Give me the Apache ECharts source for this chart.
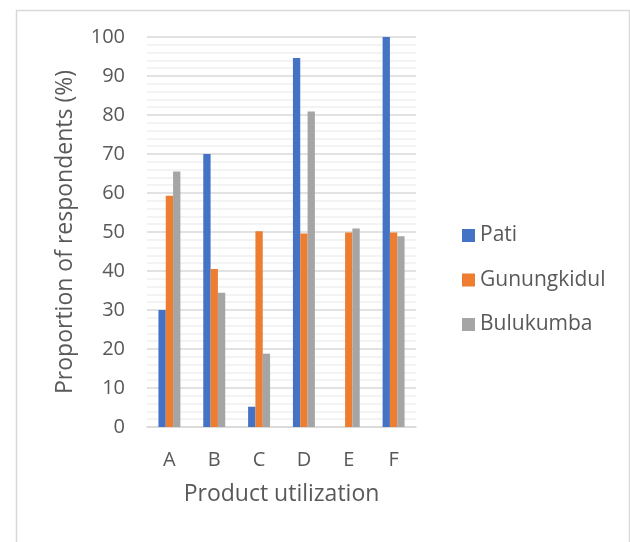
<!DOCTYPE html>
<html>
<head>
<meta charset="utf-8">
<script src="https://cdn.jsdelivr.net/npm/echarts@6/dist/echarts.min.js"></script>
<style>
  html, body { margin: 0; padding: 0; background: #fff; }
  #chart { width: 630px; height: 542px; }
</style>
</head>
<body>
<div id="chart"></div>
<script>
// Share of respondents per product-utilization category, by district
const categories = ['A', 'B', 'C', 'D', 'E', 'F'];
const pati        = [30, 70, 5.2, 94.6, 0, 100];
const gunungkidul = [59.3, 40.5, 50.2, 49.6, 49.9, 49.9];
const bulukumba   = [65.5, 34.4, 18.8, 80.9, 50.9, 48.9];
const yTicks = { min: 0, max: 100, interval: 10 };

const textColor = '#595959';
const fontFamily = '"Open Sans", "Liberation Sans", sans-serif';

const chart = echarts.init(document.getElementById('chart'), null, { renderer: 'canvas' });

const seriesDefs = [
  { name: 'Pati', data: pati, color: '#4472C4' },
  { name: 'Gunungkidul', data: gunungkidul, color: '#ED7D31' },
  { name: 'Bulukumba', data: bulukumba, color: '#A5A5A5' }
];

chart.setOption({
  animation: false,
  backgroundColor: '#fff',
  textStyle: { fontFamily: fontFamily, color: textColor },
  graphic: [{
    type: 'rect',
    left: 14, top: 8,
    shape: { width: 613, height: 560 },
    style: { fill: 'none', stroke: '#d9d9d9', lineWidth: 1.5 },
    silent: true
  }],
  grid: { left: 147, right: 214, top: 37, bottom: 115 },
  legend: {
    orient: 'vertical',
    left: 457,
    top: 220,
    itemWidth: 13,
    itemHeight: 13,
    itemGap: 23.5,
    icon: 'rect',
    textStyle: { fontSize: 21, color: textColor, fontFamily: fontFamily }
  },
  xAxis: {
    type: 'category',
    data: categories,
    name: 'Product utilization',
    nameLocation: 'middle',
    nameGap: 56,
    nameTextStyle: { fontSize: 23, color: textColor, fontFamily: fontFamily },
    axisLine: { lineStyle: { color: '#d9d9d9', width: 1.5 } },
    axisTick: { show: false },
    axisLabel: { fontSize: 20, color: textColor, margin: 23, fontFamily: fontFamily }
  },
  yAxis: {
    type: 'value',
    min: yTicks.min,
    max: yTicks.max,
    interval: yTicks.interval,
    name: 'Proportion of respondents (%)',
    nameLocation: 'middle',
    nameGap: 70,
    nameTextStyle: { fontSize: 23, color: textColor, fontFamily: fontFamily },
    axisLine: { show: false },
    axisTick: { show: false },
    axisLabel: { fontSize: 20, color: textColor, margin: 22, fontFamily: fontFamily },
    splitLine: { lineStyle: { color: '#d9d9d9', width: 1.5 } },
    minorTick: { show: false, splitNumber: 5 },
    minorSplitLine: { show: true, lineStyle: { color: '#f0f0f0', width: 1.5 } }
  },
  series: seriesDefs.map(s => ({
    name: s.name,
    type: 'bar',
    data: s.data,
    barGap: '0%',
    barCategoryGap: '51%',
    itemStyle: { color: s.color }
  }))
});
</script>
</body>
</html>
